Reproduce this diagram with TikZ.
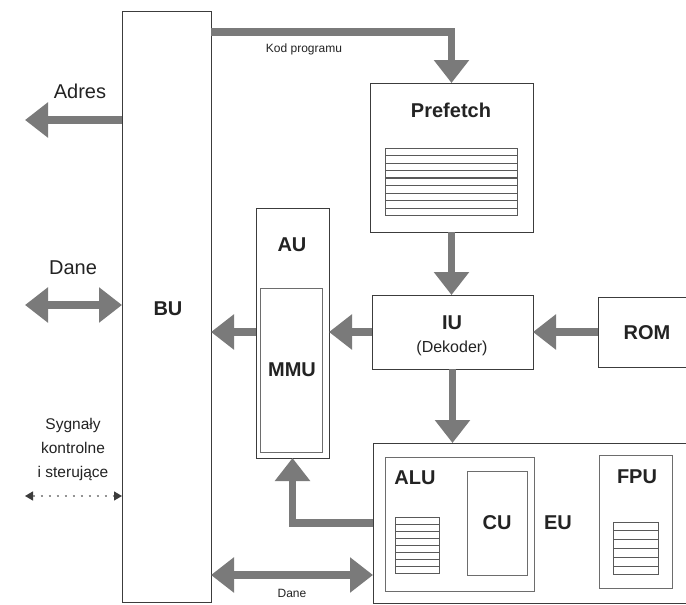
\documentclass[tikz,border=0pt]{standalone}
\usepackage{fontspec}
\setmainfont{Liberation Sans}
\usetikzlibrary{arrows.meta}

\definecolor{busgray}{RGB}{122,122,122}
\definecolor{boxline}{RGB}{60,60,60}
\definecolor{inkgray}{RGB}{35,35,35}

\tikzset{
  unit/.style={draw=boxline, line width=0.9pt, inner sep=0pt, outer sep=0pt, anchor=north west},
  subunit/.style={draw=boxline!75, line width=0.7pt, inner sep=0pt, outer sep=0pt, anchor=north west},
  title/.style={font=\fontsize{20}{22}\selectfont\bfseries, text=inkgray, inner sep=0pt},
  lbl/.style={font=\fontsize{20}{22}\selectfont, text=inkgray, inner sep=0pt},
  note/.style={font=\fontsize{15.5}{24}\selectfont, text=inkgray, inner sep=0pt, align=center},
  tiny/.style={font=\fontsize{12}{13}\selectfont, text=inkgray, inner sep=0pt},
  bigtip/.tip={Triangle[length=23pt,width=34pt]},
  bus/.style={draw=busgray, line width=7.5pt, -bigtip, color=busgray},
  dbus/.style={draw=busgray, line width=7.5pt, bigtip-bigtip, color=busgray},
  sig/.style={draw=boxline!55, line width=1.2pt, dash pattern=on 2pt off 6pt,
    {Triangle[length=8pt,width=9pt,color=boxline]}-{Triangle[length=8pt,width=9pt,color=boxline]}},
  regline/.style={draw=boxline!85, line width=0.7pt},
}

\begin{document}
\begin{tikzpicture}[x=1pt,y=-1pt]
  \useasboundingbox[fill=white] (0,0) rectangle (686,605);
  \clip (0,0) rectangle (686,605);

  % ---- units ----
  \node[unit, minimum width=89pt,  minimum height=591pt] (bu)  at (122,11)  {};
  \node[unit, minimum width=163pt, minimum height=149pt] (pre) at (370,83)  {};
  \node[unit, minimum width=161pt, minimum height=74pt]  (iu)  at (372,295) {};
  \node[unit, minimum width=100pt, minimum height=70pt]  (rom) at (598,297) {};
  \node[unit, minimum width=73pt,  minimum height=250pt] (au)  at (256,208) {};
  \node[subunit, minimum width=62pt, minimum height=164pt] (mmu) at (260,288) {};
  \node[unit, minimum width=330pt, minimum height=160pt] (eu)  at (373,443) {};
  \node[subunit, minimum width=149pt, minimum height=134pt] (alu) at (385,457) {};
  \node[subunit, minimum width=60pt,  minimum height=104pt] (cu)  at (467,471) {};
  \node[subunit, minimum width=73pt,  minimum height=133pt] (fpu) at (599,455) {};

  % ---- register files ----
  \draw[regline] (385,148) -- (385,216) (517,148) -- (517,216);
  \foreach \k in {0,...,9}
    \draw[regline, line width={(mod(\k,3)==1 ? 1.2pt : 0.7pt)}] (385,148+7.5*\k) -- (517,148+7.5*\k);

  \draw[regline] (395,517) -- (395,574) (439,517) -- (439,574);
  \foreach \k in {0,...,8}
    \draw[regline] (395,517+7.1*\k) -- (439,517+7.1*\k);

  \draw[regline] (613,522) -- (613,575) (658,522) -- (658,575);
  \foreach \k in {0,...,6}
    \draw[regline] (613,522+8.8*\k) -- (658,522+8.8*\k);

  % ---- labels ----
  \node[title] (tbu)  at (168,309) {BU};
  \node[title] (tpre) at (451,110) {Prefetch};
  \node[title] (tiu)  at (452,323) {IU};
  \node[lbl, font=\fontsize{16}{18}\selectfont] (tdek) at (452,348) {(Dekoder)};
  \node[title] (trom) at (647,333) {ROM};
  \node[title] (tau)  at (292,245) {AU};
  \node[title] (tmmu) at (292,370) {MMU};
  \node[title] (talu) at (415,478) {ALU};
  \node[title] (tcu)  at (497,523) {CU};
  \node[title] (teu)  at (558,523) {EU};
  \node[title] (tfpu) at (637,477) {FPU};

  \node[lbl]  (tadr)  at (80,91)   {Adres};
  \node[lbl]  (tdane) at (73,268)  {Dane};
  \node[tiny] (tkod)  at (304,49)  {Kod programu};
  \node[note] (tsyg)  at (73,449)  {Sygnały\\kontrolne\\i sterujące};
  \node[tiny] (tdb)   at (292,593) {Dane};

  % ---- buses ----
  \coordinate (kp)    at (211,32);
  \coordinate (adr)   at (25,120);
  \coordinate (dane)  at (25,305);
  \coordinate (sg)    at (25,496);
  \coordinate (ret)   at (0,523);
  \coordinate (dbot)  at (0,575);

  \draw[bus]  (bu.east |- kp) -| (pre.north);
  \draw[bus]  (bu.west |- adr) -- (adr);
  \draw[dbus] (dane) -- (bu.west |- dane);
  \draw[sig]  (sg) -- (bu.west |- sg);
  \draw[bus]  (pre.south) -- (pre.south |- iu.north);
  \draw[bus]  (rom.west) -- (iu.east |- rom.west);
  \draw[bus]  (iu.west) -- (au.east |- iu.west);
  \draw[bus]  (au.west |- iu.west) -- (bu.east |- iu.west);
  \draw[bus]  (iu.south) -- (iu.south |- eu.north);
  \draw[bus]  (eu.west |- ret) -| (au.south);
  \draw[dbus] (bu.east |- dbot) -- (eu.west |- dbot);
\end{tikzpicture}
\end{document}
